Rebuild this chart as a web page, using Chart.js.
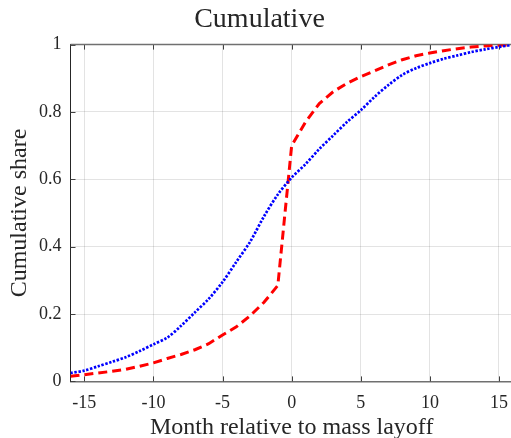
<!DOCTYPE html>
<html>
<head>
<meta charset="utf-8">
<script src="https://cdn.jsdelivr.net/npm/chart.js@4"></script>
<style>
  html, body { margin:0; padding:0; background:#fff; overflow:hidden; }
  #wrap { width:519px; height:438px; }
</style>
</head>
<body>
<div id="wrap"><canvas id="c"></canvas></div>
<script>
// ---- Datos
const months = [-16,-15,-14,-13,-12,-11,-10,-9,-8,-7,-6,-5,-4,-3,-2,-1,0,1,2,3,4,5,6,7,8,9,10,11,12,13,14,15,16];
const blueShare = [0.025,0.032,0.045,0.058,0.072,0.09,0.11,0.13,0.165,0.205,0.245,0.295,0.355,0.415,0.49,0.555,0.605,0.645,0.69,0.73,0.77,0.805,0.845,0.88,0.91,0.93,0.945,0.958,0.968,0.978,0.986,0.993,1.0];
const redShare  = [0.015,0.02,0.025,0.03,0.036,0.045,0.055,0.068,0.08,0.094,0.112,0.138,0.162,0.195,0.235,0.285,0.70,0.77,0.825,0.86,0.885,0.905,0.922,0.94,0.955,0.967,0.975,0.982,0.988,0.993,0.996,0.998,1.0];
const xTicks = [-15,-10,-5,0,5,10,15];
const yTicks = [0,0.2,0.4,0.6,0.8,1];

const pts = arr => months.map((m,i) => ({ x:m, y:arr[i] }));
const FONT = 'Liberation Serif';
const TXT = '#262626';

// ticks hacia dentro + marco superior (estilo MATLAB)
const frame = {
  id: 'frame',
  beforeDatasetsDraw(chart){
    const { ctx, chartArea:a, scales:{x,y} } = chart;
    ctx.save();
    ctx.strokeStyle = '#404040';
    ctx.lineWidth = 1;
    ctx.beginPath();
    xTicks.forEach(v => {
      const px = Math.round(x.getPixelForValue(v)) + 0.5;
      ctx.moveTo(px, a.bottom); ctx.lineTo(px, a.bottom - 5);
      ctx.moveTo(px, a.top); ctx.lineTo(px, a.top + 5);
    });
    yTicks.forEach(v => {
      const py = Math.round(y.getPixelForValue(v)) + 0.5;
      ctx.moveTo(a.left, py); ctx.lineTo(a.left + 5, py);
    });
    ctx.stroke();
    ctx.strokeStyle = '#707070';
    ctx.lineWidth = 1.5;
    ctx.beginPath();
    ctx.moveTo(a.left, a.top); ctx.lineTo(a.right, a.top);
    ctx.stroke();
    ctx.restore();
  }
};

new Chart(document.getElementById('c'), {
  type: 'line',
  data: {
    datasets: [
      { data: pts(blueShare), borderColor:'#0000ff', borderWidth:2.7, borderDash:[2.4,1.6],
        pointRadius:0, tension:0.3, fill:false },
      { data: pts(redShare), borderColor:'#ff0000', borderWidth:3, borderDash:[9,5],
        pointRadius:0, tension:0, fill:false }
    ]
  },
  options: {
    responsive: true,
    maintainAspectRatio: false,
    animation: false,
    layout: { padding: { left:0, right:0, top:0, bottom:-2 } },
    scales: {
      x: {
        type: 'linear', min:-16, max:16,
        afterBuildTicks: s => { s.ticks = xTicks.map(v => ({ value:v })); },
        grid: { color:'rgba(0,0,0,0.11)', drawTicks:false },
        border: { color:'#707070', width:1.5 },
        ticks: { color:TXT, font:{ family:FONT, size:18 }, padding:11, maxRotation:0 },
        title: { display:true, text:'Month relative to mass layoff', color:TXT,
                 font:{ family:FONT, size:24, lineHeight:1.0 }, padding:{ top:-9, bottom:0 } }
      },
      y: {
        min:0, max:1,
        afterBuildTicks: s => { s.ticks = yTicks.map(v => ({ value:v })); },
        grid: { color:'rgba(0,0,0,0.11)', drawTicks:false },
        border: { color:'#262626', width:1 },
        ticks: { color:TXT, font:{ family:FONT, size:18 }, padding:9,
                 callback: v => String(Math.round(v*10)/10) },
        title: { display:true, text:'Cumulative share', color:TXT,
                 font:{ family:FONT, size:24, lineHeight:1.0 }, padding:{ top:8, bottom:-2 } }
      }
    },
    plugins: {
      legend: { display:false },
      tooltip: { enabled:false },
      title: { display:true, text:'Cumulative', color:TXT,
               font:{ family:FONT, size:28, weight:'normal' }, padding:{ top:3, bottom:8 } }
    }
  },
  plugins: [frame]
});
</script>
</body>
</html>
